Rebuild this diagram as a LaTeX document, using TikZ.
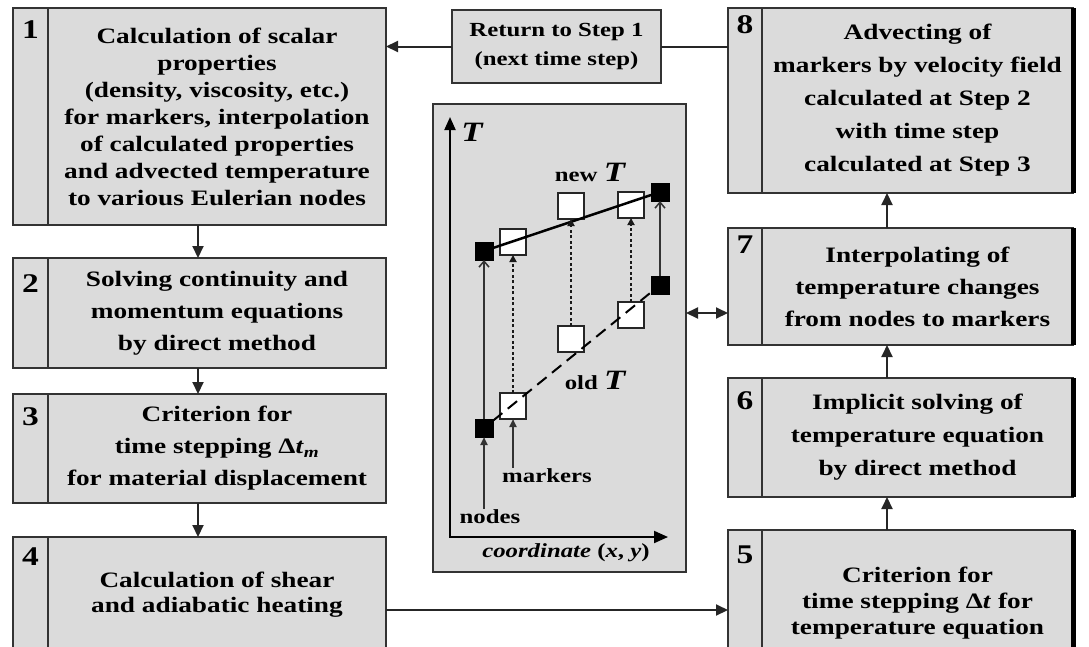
\documentclass[tikz,border=0pt]{standalone}
\usepackage{fontspec}
\setmainfont{Liberation Serif}[FakeStretch=1.24]
\usetikzlibrary{arrows.meta, positioning}

\newcommand{\stepfont}[1]{\fontsize{22}{#1}\selectfont\bfseries}

\begin{document}
\begin{tikzpicture}[
        x=1pt, y=-1pt,
        cell/.style={rectangle, draw=black!80, line width=2pt, fill=black!14, outer sep=0pt, inner sep=2pt, minimum width=338pt, align=center},
        rcell/.style={cell, minimum width=311pt},
        numcell/.style={rectangle, draw=black!80, line width=2pt, fill=black!14, outer sep=0pt, inner sep=0pt},
        numlbl/.style={anchor=north, inner sep=0pt, font=\fontsize{27}{27}\selectfont\bfseries},
        retbox/.style={rectangle, draw=black!80, line width=2pt, fill=black!14, outer sep=0pt, minimum width=209pt, minimum height=73pt, align=center, font=\fontsize{20}{29}\selectfont\bfseries},
        panel/.style={rectangle, draw=black!80, line width=2pt, fill=black!14, outer sep=0pt, minimum width=253pt, minimum height=468pt},
        gridnode/.style={rectangle, draw=black, fill=black, minimum size=18pt, inner sep=0pt, outer sep=0pt},
        marker/.style={rectangle, draw=black!85, line width=2pt, fill=white, minimum size=26pt, inner sep=0pt, outer sep=0pt},
        panellbl/.style={inner sep=1pt, font=\fontsize{20}{24}\selectfont\bfseries},
        bigT/.style={inner sep=0pt, font=\fontsize{28}{28}\selectfont\bfseries\itshape},
        arrow/.style={-{Triangle[length=12pt, width=11pt]}, line width=2pt, draw=black!85},
        dblarrow/.style={{Triangle[length=12pt, width=11pt]}-{Triangle[length=12pt, width=11pt]}, line width=2pt, draw=black!85},
        link/.style={line width=2pt, draw=black!85},
        rimedge/.style={line width=5pt, draw=black},
        axis/.style={{Triangle[length=13pt, width=11pt]}-{Triangle[length=14pt, width=12pt]}, line width=2pt},
        newline/.style={line width=2.5pt},
        oldline/.style={line width=2pt, dash pattern=on 12pt off 7pt},
        rise/.style={-{Straight Barb[length=6pt, width=10pt]}, line width=1.5pt, draw=black!80},
        transfer/.style={-{Triangle[length=7pt, width=7pt]}, line width=2pt, dash pattern=on 3pt off 2.5pt, draw=black!90},
        pointer/.style={-{Triangle[length=8pt, width=7pt]}, line width=2pt, draw=black!80}
    ]

    \useasboundingbox (0,0) rectangle (1089,646);

    % Left column
    \node (c1) [cell, minimum height=217pt, font=\stepfont{27}] at (217,116.5) {Calculation of scalar\\properties\\(density, viscosity, etc.)\\for markers, interpolation\\of calculated properties\\and advected temperature\\to various Eulerian nodes};
    \node (c2) [cell, minimum height=110pt, font=\stepfont{32}, below=33pt of c1] {Solving continuity and\\momentum equations\\by direct method};
    \node (c3) [cell, minimum height=109pt, font=\stepfont{32}, below=26pt of c2] {Criterion for\\time stepping Δ\textit{t}\textsubscript{\textit{m}}\\for material displacement};
    \node (c4) [cell, minimum height=115pt, font=\stepfont{25}, below=34pt of c3] {Calculation of shear\\and adiabatic heating};

    \node (n1) [numcell, minimum width=35pt, minimum height=217pt, left=0pt of c1] {};
    \node (n2) [numcell, minimum width=35pt, minimum height=110pt, left=0pt of c2] {};
    \node (n3) [numcell, minimum width=35pt, minimum height=109pt, left=0pt of c3] {};
    \node (n4) [numcell, minimum width=35pt, minimum height=115pt, left=0pt of c4] {};

    % Right column
    \node (c8) [rcell, minimum height=185pt, font=\stepfont{33}] at (917.5,100.5) {Advecting of\\markers by velocity field\\calculated at Step 2\\with time step\\calculated at Step 3};
    \node (c7) [rcell, minimum height=117pt, font=\stepfont{32}, below=35pt of c8] {Interpolating of\\temperature changes\\from nodes to markers};
    \node (c6) [rcell, minimum height=119pt, font=\stepfont{33}, below=33pt of c7] {Implicit solving of\\temperature equation\\by direct method};
    \node (c5) [rcell, minimum height=146pt, font=\stepfont{26}, below=33pt of c6] {Criterion for\\time stepping Δ\textit{t} for\\temperature equation};

    \node (n8) [numcell, minimum width=34pt, minimum height=185pt, left=0pt of c8] {};
    \node (n7) [numcell, minimum width=34pt, minimum height=117pt, left=0pt of c7] {};
    \node (n6) [numcell, minimum width=34pt, minimum height=119pt, left=0pt of c6] {};
    \node (n5) [numcell, minimum width=34pt, minimum height=146pt, left=0pt of c5] {};

    \draw [rimedge] (c8.north east) -- (c8.south east);
    \draw [rimedge] (c7.north east) -- (c7.south east);
    \draw [rimedge] (c6.north east) -- (c6.south east);
    \draw [rimedge] (c5.north east) -- (c5.south east);

    % Step numbers
    \node (l1) [numlbl] at ([yshift=-12pt]n1.north) {1};
    \node (l2) [numlbl] at ([yshift=-16pt]n2.north) {2};
    \node (l3) [numlbl] at ([yshift=-13pt]n3.north) {3};
    \node (l4) [numlbl] at ([yshift=-11pt]n4.north) {4};
    \node (l5) [numlbl] at ([yshift=-16pt]n5.north) {5};
    \node (l6) [numlbl] at ([yshift=-13pt]n6.north) {6};
    \node (l7) [numlbl] at ([yshift=-8pt]n7.north) {7};
    \node (l8) [numlbl] at ([yshift=-7pt]n8.north) {8};

    % Return box and middle panel
    \node (ret) [retbox] at (556.5,46.5) {Return to Step 1\\(next time step)};
    \node (panel) [panel] at (559.5,338) {};

    % Arrows between steps
    \coordinate (colL) at (198,0);
    \coordinate (colR) at (887,0);
    \coordinate (heat) at (550,610);
    \coordinate (swap) at (700,313);
    \draw [arrow] (c1.south -| colL) -- (c2.north -| colL);
    \draw [arrow] (c2.south -| colL) -- (c3.north -| colL);
    \draw [arrow] (c3.south -| colL) -- (c4.north -| colL);
    \draw [arrow] (c4.east |- heat) -- (n5.west |- heat);
    \draw [arrow] (c5.north -| colR) -- (c6.south -| colR);
    \draw [arrow] (c6.north -| colR) -- (c7.south -| colR);
    \draw [arrow] (c7.north -| colR) -- (c8.south -| colR);
    \draw [link] (n8.west |- ret.east) -- (ret.east);
    \draw [arrow] (ret.west) -- (c1.east |- ret.west);
    \draw [dblarrow] (panel.east |- swap) -- (n7.west |- swap);

    % Panel: axes
    \coordinate (origin) at (450,537);
    \coordinate (tEnd) at (450,117);
    \coordinate (xEnd) at (668,537);
    \draw [axis] (tEnd) -- (origin) -- (xEnd);
    \node (tlbl) [bigT] at (472,132) {T};
    \node (xlbl) [panellbl] at (566,553) {\textit{coordinate} (\textit{x}, \textit{y})};

    % Panel: markers and nodes
    \node (newA) [marker] at (513,242) {};
    \node (newB) [marker] at (571,206) {};
    \node (newC) [marker] at (631,205) {};
    \node (oldA) [marker] at (513,406) {};
    \node (oldB) [marker] at (571,339) {};
    \node (oldC) [marker] at (631,315) {};
    \node (nodeTL) [gridnode] at (484,251) {};
    \node (nodeTR) [gridnode] at (660,192) {};
    \node (nodeBR) [gridnode] at (660,285) {};
    \node (nodeBL) [gridnode] at (484,428) {};

    \draw [newline] (nodeTL) -- (nodeTR);
    \draw [oldline] (nodeBL) -- (nodeBR);
    \draw [rise] (nodeBL) -- (nodeTL);
    \draw [rise] (nodeBR) -- (nodeTR);
    \draw [transfer] (oldA) -- (newA);
    \draw [transfer] (oldB) -- (newB);
    \draw [transfer] (oldC) -- (newC);

    % Panel: labels
    \node (newlbl) [panellbl] at (590,172) {new {\fontsize{28}{28}\selectfont\itshape T}};
    \node (oldlbl) [panellbl] at (595,380) {old {\fontsize{28}{28}\selectfont\itshape T}};
    \node (nodeslbl) [panellbl] at (490,517) {nodes};
    \node (markerslbl) [panellbl] at (547,476) {markers};
    \draw [pointer] (nodeslbl.north -| nodeBL) -- (nodeBL);
    \draw [pointer] (markerslbl.north -| oldA) -- (oldA);

\end{tikzpicture}
\end{document}
